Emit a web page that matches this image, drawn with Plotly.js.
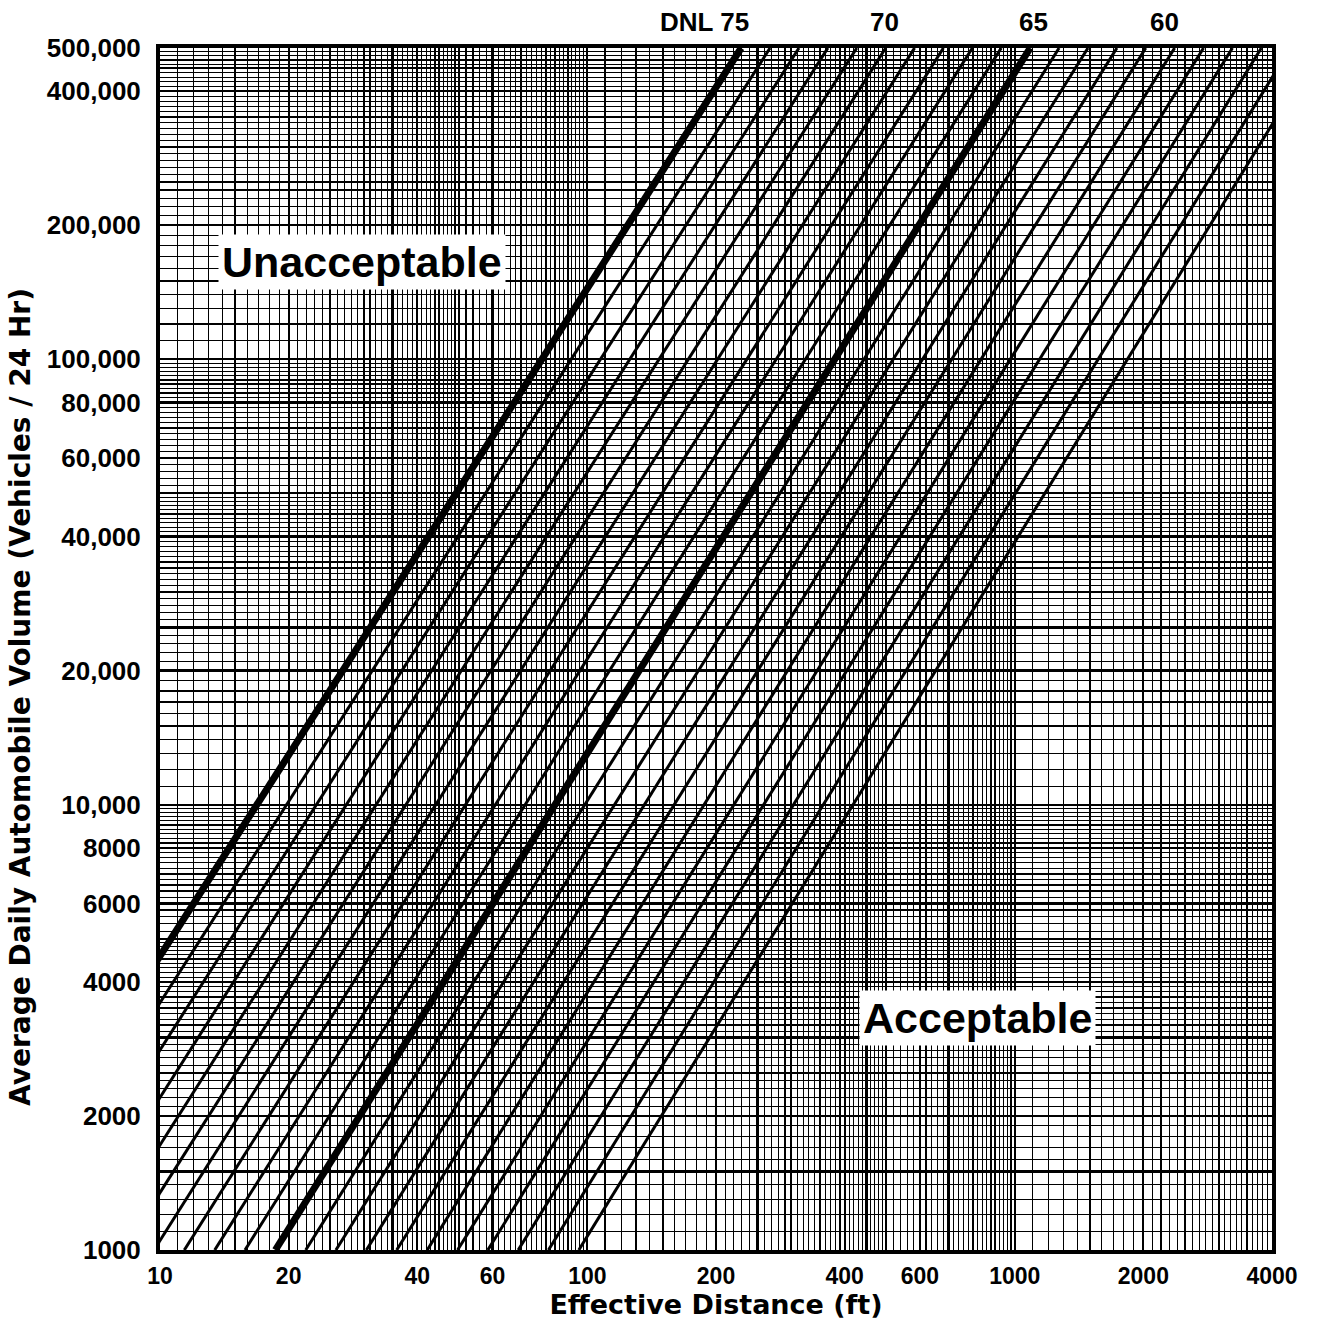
<!DOCTYPE html>
<html>
<head>
<meta charset="utf-8">
<script src="https://cdn.plot.ly/plotly-3.0.1.min.js"></script>
<style>
  html, body { margin: 0; padding: 0; background: #fff; }
  #chart { width: 1317px; height: 1328px; }
</style>
</head>
<body>
<div id="chart"></div>
<script>
// ---- Data ----
const dnlLevels = [75, 74, 73, 72, 71, 70, 69, 68, 67, 66, 65, 64, 63, 62, 61, 60, 59, 58, 57, 56, 55];
// effective distance (ft) where each DNL line crosses 1000 vehicles/day
const distAtVol1000 = [3.63, 4.27, 5.03, 5.93, 6.98, 8.22, 9.68, 11.4, 13.43, 15.81, 18.62, 21.93, 25.8, 30.4, 35.8, 42.2, 49.7, 58.5, 68.9, 81.1, 95.5];
// effective distance (ft) where each DNL line crosses 500,000 vehicles/day
const distAtVol500k = [229, 267.6, 312.7, 365.4, 427, 499, 583, 681, 796, 930, 1087, 1270, 1484, 1734, 2026, 2367, 2766, 3232, 3777, 4413, 5157];
const volEnds = [1000, 500000];
const thickLevels = [75, 65];

const xTickVals = [10, 20, 40, 60, 100, 200, 400, 600, 1000, 2000, 4000];
const xTickText = ["10", "20", "40", "60", "100", "200", "400", "600", "1000", "2000", "4000"];
const yTickVals = [1000, 2000, 4000, 6000, 8000, 10000, 20000, 40000, 60000, 80000, 100000, 200000, 400000, 500000];
const yTickText = ["1000", "2000", "4000", "6000", "8000", "10,000", "20,000", "40,000", "60,000", "80,000", "100,000", "200,000", "400,000", "500,000"];

const topLabels = ["DNL 75", "70", "65", "60"];
const topLabelDist = [188, 497, 1104, 2245];

// ---- Graph-paper grid helpers (styling) ----
const majorMult = [1, 1.5, 2, 2.5, 3, 3.5, 4, 4.5, 5, 6, 7, 8, 9];
function buildGrid(decades, lo, hi, labeledVals, labeledText) {
  const major = [], majorText = [], minor = [];
  const eps = 1e-9;
  decades.forEach(d => {
    majorMult.forEach(m => {
      const v = +(m * d).toPrecision(6);
      if (v >= lo - eps && v <= hi + eps) major.push(v);
    });
    for (let k = 11; k < 100; k += (k < 50 ? 1 : 2)) {
      const m = k / 10;
      if (majorMult.some(mm => Math.abs(mm - m) < 1e-9)) continue;
      const v = +(m * d).toPrecision(6);
      if (v > lo && v < hi) minor.push(v);
    }
  });
  major.forEach(v => {
    const i = labeledVals.findIndex(l => Math.abs(l - v) < 1e-6 * v);
    majorText.push(i >= 0 ? labeledText[i] : "");
  });
  return { major, majorText, minor };
}
const xGrid = buildGrid([10, 100, 1000], 10, 4000, xTickVals, xTickText);
const yGrid = buildGrid([1000, 10000, 100000], 1000, 500000, yTickVals, yTickText);

// ---- Traces ----
const traces = dnlLevels.map((lvl, i) => ({
  type: "scatter",
  mode: "lines",
  x: [distAtVol1000[i], distAtVol500k[i]],
  y: volEnds,
  line: { color: "#000", width: thickLevels.includes(lvl) ? 7 : 3 },
  hoverinfo: "skip",
  name: "DNL " + lvl
}));

const lib = "Liberation Sans, Arial, sans-serif";
const dv = "DejaVu Sans, Verdana, sans-serif";

const annotations = topLabels.map((t, i) => ({
  x: Math.log10(topLabelDist[i]), xref: "x",
  y: 1.022, yref: "paper",
  text: t, showarrow: false,
  xanchor: "center", yanchor: "middle",
  font: { family: lib, size: 26, color: "#000", weight: "bold" }
}));
annotations.push({
  x: 0.1817, y: 0.822, xref: "paper", yref: "paper",
  text: "Unacceptable", showarrow: false,
  xanchor: "center", yanchor: "middle",
  bgcolor: "#fff", borderpad: 3,
  font: { family: lib, size: 43, color: "#000", weight: "bold" }
});
annotations.push({
  x: 0.7356, y: 0.193, xref: "paper", yref: "paper",
  text: "Acceptable", showarrow: false,
  xanchor: "center", yanchor: "middle",
  bgcolor: "#fff", borderpad: 3,
  font: { family: lib, size: 43, color: "#000", weight: "bold" }
});
// y-axis title (placed as in the reference, slightly below centre)
annotations.push({
  x: -0.126, y: 0.46, xref: "paper", yref: "paper",
  text: "Average Daily Automobile Volume (Vehicles / 24 Hr)", showarrow: false,
  textangle: -90, xanchor: "center", yanchor: "middle",
  font: { family: dv, size: 28, color: "#000", weight: "bold" }
});

const layout = {
  width: 1317, height: 1328,
  margin: { l: 160, r: 45, t: 48, b: 78 },
  paper_bgcolor: "#fff", plot_bgcolor: "#fff",
  showlegend: false,
  hovermode: false,
  xaxis: {
    type: "log",
    range: [1, Math.log10(4000)],
    tickmode: "array", tickvals: xGrid.major, ticktext: xGrid.majorText,
    ticks: "", ticklabelstandoff: 2,
    tickfont: { family: lib, size: 23, color: "#000", weight: "bold" },
    showgrid: true, gridcolor: "#000", gridwidth: 2.2,
    minor: { tickmode: "array", tickvals: xGrid.minor, showgrid: true, gridcolor: "#000", gridwidth: 1.1, ticks: "" },
    showline: true, linecolor: "#000", linewidth: 4, mirror: true,
    zeroline: false,
    title: { text: "Effective Distance (ft)", standoff: 6,
      font: { family: dv, size: 27, color: "#000", weight: "bold" } }
  },
  yaxis: {
    type: "log",
    range: [3, Math.log10(500000)],
    tickmode: "array", tickvals: yGrid.major, ticktext: yGrid.majorText,
    ticks: "", ticklabelstandoff: 10,
    tickfont: { family: lib, size: 26, color: "#000", weight: "bold" },
    showgrid: true, gridcolor: "#000", gridwidth: 2.2,
    minor: { tickmode: "array", tickvals: yGrid.minor, showgrid: true, gridcolor: "#000", gridwidth: 1.1, ticks: "" },
    showline: true, linecolor: "#000", linewidth: 4, mirror: true,
    zeroline: false
  },
  annotations: annotations
};

Plotly.newPlot("chart", traces, layout, { displayModeBar: false, staticPlot: true });
</script>
</body>
</html>
